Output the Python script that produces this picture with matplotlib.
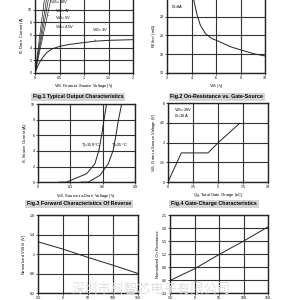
import matplotlib
matplotlib.use("Agg")
import matplotlib.pyplot as plt
import numpy as np

# ---------------- data ----------------
# Fig.1 Typical output characteristics
vds_10 = [0, 0.05, 0.1, 0.15, 0.2]
id_10 = [0, 3.1, 6.2, 9.2, 12.2]
vds_7 = [0, 0.06, 0.12, 0.18, 0.24]
id_7 = [0, 3.0, 6.0, 9.0, 12.0]
vds_5 = [0, 0.07, 0.14, 0.21, 0.28]
id_5 = [0, 3.0, 6.0, 9.0, 12.0]
vds_45 = [0, 0.08, 0.16, 0.24, 0.33]
id_45 = [0, 2.9, 5.8, 8.7, 12.0]
vds_3 = [0, 0.05, 0.1, 0.17, 0.25, 0.35, 0.5, 0.7, 1.0, 1.2, 1.5, 2.0]
id_3 = [0, 1.0, 1.8, 2.6, 3.3, 3.8, 4.2, 4.5, 4.8, 5.0, 5.15, 5.25]

# Fig.2 On-resistance vs gate-source voltage
vgs_r = [4.17, 4.44, 4.71, 5.12, 5.66, 6.07, 7.15, 8.02, 9.05, 10.0]
rds_on = [27.6, 24.4, 22.2, 20.4, 19.3, 18.9, 17.6, 16.9, 16.1, 15.6]

# Fig.3 Forward characteristics of reverse diode
vsd_150 = [0.2, 0.264, 0.45, 0.528, 0.565, 0.59, 0.611, 0.636]
is_150 = [0, 0, 1.07, 2.36, 4.1, 6.0, 7.9, 10.0]
vsd_25 = [0.4, 0.466, 0.574, 0.652, 0.698, 0.723, 0.745, 0.776]
is_25 = [0, 0, 0.86, 2.36, 4.1, 6.0, 7.9, 10.0]

# Fig.4 Gate charge
qg = [0, 1.33, 4.0, 5.0, 7.17]
vgs_q = [0, 2.22, 2.22, 2.98, 4.47]

# Fig.5 normalized threshold voltage vs temperature
temp = [-50, 0, 50, 100, 150]
vth_norm = [1.25, 1.10, 0.93, 0.77, 0.60]

# Fig.6 normalized on resistance vs temperature
ron_norm = [0.59, 0.86, 1.19, 1.50, 1.83]

titles = ["Fig.1 Typical Output Characteristics",
          "Fig.2 On-Resistance vs. Gate-Source",
          "Fig.3 Forward Characteristics Of Reverse",
          "Fig.4 Gate-Charge Characteristics"]
watermark = "深圳市科智芯电子有限公司"

# ---------------- drawing ----------------
fig = plt.figure(figsize=(3, 3), dpi=100)
fig.patch.set_facecolor("white")

TF = 2.6   # tick font
LF = 2.9   # label font
narrow = ["Liberation Sans Narrow", "Liberation Sans", "DejaVu Sans"]

def setup(ax, xlim, ylim, xt, yt, xl, yl, ygrid=None):
    ax.set_xlim(*xlim)
    ax.set_ylim(*ylim)
    ax.set_xticks(xt)
    ax.set_yticks(yt)
    ax.set_xticklabels([f"{v:g}" for v in xt], fontsize=TF, family=narrow)
    ax.set_yticklabels([f"{v:g}" for v in yt], fontsize=TF, family=narrow)
    ax.tick_params(length=1.2, width=0.5, pad=1.2)
    for s in ax.spines.values():
        s.set_linewidth(1.0)
        s.set_color("#222222")
    ax.grid(True, color="#333333", linewidth=0.8)
    ax.set_axisbelow(True)
    if xl:
        ax.set_xlabel(xl, fontsize=LF, family=narrow, labelpad=1.5)
    ax.set_ylabel(yl, fontsize=LF, family=narrow, labelpad=1.5)

lc = "#222222"
lw = 0.7

# Panel 1
ax1 = fig.add_axes([0.117, 0.757, 0.327, 0.253])
setup(ax1, (0, 2), (0, 12), [0, 0.5, 1, 1.5, 2], [0, 2, 4, 6, 8, 10],
      r"V$_{\rm DS}$, Drain-to-Source Voltage (V)", r"I$_{\rm D}$, Drain Current (A)")
for xs, ys in [(vds_10, id_10), (vds_7, id_7), (vds_5, id_5), (vds_45, id_45)]:
    ax1.plot(xs, ys, color=lc, lw=0.5)
ax1.plot(vds_3, id_3, color=lc, lw=lw)
for txt, (tx, ty), (px, py) in [(r"V$_{\rm GS}$=10V", (0.3, 11.1), (0.18, 11.0)),
                                 (r"V$_{\rm GS}$=7V", (0.4, 9.8), (0.2, 10.0)),
                                 (r"V$_{\rm GS}$=5V", (0.4, 8.6), (0.22, 9.2)),
                                 (r"V$_{\rm GS}$=4.5V", (0.4, 7.3), (0.24, 8.6))]:
    ax1.annotate(txt, xy=(px, py), xytext=(tx, ty), fontsize=LF, family=narrow,
                 va="center", arrowprops=dict(arrowstyle="-", lw=0.4, color=lc))
ax1.annotate(r"V$_{\rm GS}$=3V", xy=(1.22, 5.05), xytext=(1.15, 6.7), fontsize=LF,
             family=narrow, va="center", arrowprops=dict(arrowstyle="-", lw=0.4, color=lc))

# Panel 2
ax2 = fig.add_axes([0.557, 0.757, 0.327, 0.25])
setup(ax2, (2, 10), (12, 28), [2, 4, 6, 8, 10], [12, 16, 20, 24],
      r"V$_{\rm GS}$ (V)", r"R$_{\rm DS(on)}$ (m$\Omega$)")
ax2.plot(vgs_r, rds_on, color=lc, lw=lw)
ax2.text(2.3, 26.0, r"I$_{\rm D}$=8A", fontsize=LF, family=narrow, va="center")

# Panel 3
ax3 = fig.add_axes([0.127, 0.393, 0.323, 0.26])
setup(ax3, (0, 0.9), (0, 10), [0, 0.3, 0.6, 0.9], [0, 2, 4, 6, 8, 10],
      r"V$_{\rm SD}$, Source-to-Drain Voltage (V)", r"I$_{\rm S}$, Source Current (A)")
ax3.plot(vsd_150, is_150, color=lc, lw=lw)
ax3.plot(vsd_25, is_25, color=lc, lw=lw)
ax3.text(0.575, 4.7, r"T$_{\rm J}$=150$\degree$C", fontsize=LF, family=narrow,
         ha="right", va="center")
ax3.text(0.68, 4.7, r"T$_{\rm J}$=25$\degree$C", fontsize=LF, family=narrow,
         ha="left", va="center")

# Panel 4
ax4 = fig.add_axes([0.56, 0.393, 0.333, 0.263])
setup(ax4, (0, 10), (0, 6), [0, 2.5, 5, 7.5, 10], [0, 1.5, 3, 4.5, 6],
      r"Q$_{\rm g}$, Total Gate Charge (nC)", r"V$_{\rm GS}$, Gate-to-Source Voltage (V)")
ax4.plot(qg, vgs_q, color=lc, lw=lw)
ax4.text(0.6, 5.5, r"V$_{\rm DS}$=20V", fontsize=LF, family=narrow, va="center")
ax4.text(0.6, 5.0, r"I$_{\rm D}$=10A", fontsize=LF, family=narrow, va="center")

# Panel 5
ax5 = fig.add_axes([0.127, 0.0233, 0.333, 0.26])
setup(ax5, (-50, 150), (0.2, 1.8), [-50, 0, 50, 100, 150], [0.2, 0.6, 1.0, 1.4, 1.8],
      "", r"Normalized V$_{\rm GS(th)}$ (V)")
ax5.plot(temp, vth_norm, color=lc, lw=lw)

# Panel 6
ax6 = fig.add_axes([0.567, 0.0233, 0.327, 0.26])
setup(ax6, (-50, 150), (0.3, 2.1), [-50, 0, 50, 100, 150],
      [0.3, 0.6, 0.9, 1.2, 1.5, 1.8, 2.1], "", "Normalized On Resistance")
ax6.plot(temp, ron_norm, color=lc, lw=lw)

# Title banners
for txt, (cx, cy) in zip(titles, [(0.26, 0.677), (0.723, 0.677),
                                   (0.263, 0.32), (0.713, 0.32)]):
    fig.text(cx, cy, txt, fontsize=3.8, fontweight="bold", family=narrow,
             ha="center", va="center",
             bbox=dict(boxstyle="square,pad=0.35", facecolor="#d4d4d4",
                       edgecolor="none"))

# Watermark
fig.text(0.505, 0.037, watermark, fontsize=9.5, color="#e0e0e0",
         family=["Noto Sans CJK SC", "DejaVu Sans"], ha="center", va="center",
         zorder=10)

fig.savefig("out.png", dpi=100)
